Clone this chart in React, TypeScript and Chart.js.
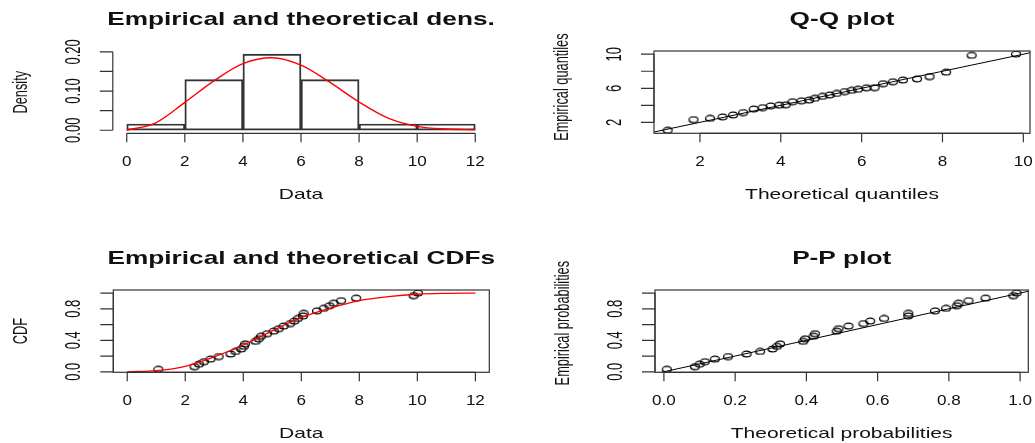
import React, { useEffect, useRef } from 'react';
import { Chart, registerables } from 'chart.js';

Chart.register(...registerables);

const W = 1035;
const H = 443;

// ---------- data ----------
const histBreaks = [0, 2, 4, 6, 8, 10, 12];
const histDensity = [0.016, 0.129, 0.194, 0.129, 0.016, 0.016];

const curveX = [0, 1, 2, 3, 4, 5, 6, 7, 8, 9, 10, 11, 12];
const densityCurve = [0.0, 0.019, 0.071, 0.126, 0.17, 0.185, 0.166, 0.122, 0.072, 0.031, 0.01, 0.003, 0.001];
const cdfCurve = [0.0, 0.015, 0.07, 0.19, 0.34, 0.52, 0.69, 0.81, 0.905, 0.955, 0.985, 0.996, 1.0];

const observed = [
  1.07, 2.32, 2.47, 2.64, 2.87, 3.15, 3.56, 3.73, 3.93, 4.02, 4.06, 4.42, 4.53, 4.61, 4.82, 5.05,
  5.22, 5.39, 5.62, 5.76, 5.88, 6.06, 6.08, 6.54, 6.77, 6.97, 7.11, 7.37, 7.89, 9.87, 10.02,
];
const empiricalProb = [
  0.032, 0.065, 0.097, 0.129, 0.161, 0.194, 0.226, 0.258, 0.29, 0.323, 0.355, 0.387, 0.419, 0.452, 0.484, 0.516,
  0.548, 0.581, 0.613, 0.645, 0.677, 0.71, 0.742, 0.774, 0.806, 0.839, 0.871, 0.903, 0.935, 0.968, 1.0,
];
const theoQuantiles = [
  1.2, 1.84, 2.25, 2.56, 2.82, 3.07, 3.33, 3.55, 3.75, 3.96, 4.12, 4.29, 4.51, 4.7, 4.84, 5.03,
  5.21, 5.38, 5.58, 5.75, 5.91, 6.12, 6.32, 6.53, 6.77, 7.02, 7.37, 7.68, 8.09, 8.72, 9.82,
];
const theoProb = [
  0.008, 0.087, 0.1, 0.115, 0.143, 0.18, 0.232, 0.27, 0.305, 0.317, 0.326, 0.391, 0.396, 0.42, 0.424, 0.485,
  0.49, 0.518, 0.56, 0.579, 0.618, 0.686, 0.686, 0.761, 0.792, 0.822, 0.827, 0.855, 0.903, 0.981, 0.99,
];
const qqIdentity = [0, 11];
const ppIdentity = [-0.1, 1.1];

// ---------- tick labels ----------
const dataTicks = [0, 2, 4, 6, 8, 10, 12];
const dataTickLabels = ['0', '2', '4', '6', '8', '10', '12'];
const densTicks = [0, 0.05, 0.1, 0.15, 0.2];
const densTickLabels = ['0.00', '', '0.10', '', '0.20'];
const qqTicks = [2, 4, 6, 8, 10];
const qqXLabels = ['2', '4', '6', '8', '10'];
const qqYLabels = ['2', '', '6', '', '10'];
const probTicks = [0, 0.2, 0.4, 0.6, 0.8, 1.0];
const probXLabels = ['0.0', '0.2', '0.4', '0.6', '0.8', '1.0'];
const probYLabels = ['0.0', '', '0.4', '', '0.8', ''];

const FONT = '"Liberation Sans", Arial, Helvetica, sans-serif';
const INK = '#111';
const AXIS = '#333';

type Spec = {
  title: string;
  xTitle: string;
  yTitle: string;
  xTicks: number[];
  xLabels: string[];
  yTicks: number[];
  yLabels: string[];
  box: boolean;
  yTitleShift: number;
};

function hText(ctx: CanvasRenderingContext2D, t: string, x: number, y: number, font: string, sx: number) {
  ctx.save();
  ctx.translate(x, y);
  ctx.scale(sx, 1);
  ctx.font = font;
  ctx.textAlign = 'center';
  ctx.textBaseline = 'alphabetic';
  ctx.fillText(t, 0, 0);
  ctx.restore();
}

function vText(ctx: CanvasRenderingContext2D, t: string, x: number, y: number, font: string, sy: number) {
  ctx.save();
  ctx.translate(x, y);
  ctx.rotate(-Math.PI / 2);
  ctx.scale(1, sy);
  ctx.font = font;
  ctx.textAlign = 'center';
  ctx.textBaseline = 'alphabetic';
  ctx.fillText(t, 0, 0);
  ctx.restore();
}

function makeAxesPlugin(id: string, spec: Spec) {
  return {
    id,
    afterDraw(chart: any) {
      const { ctx, chartArea: a } = chart;
      const xs = chart.scales.x;
      const ys = chart.scales.y;
      ctx.save();
      ctx.strokeStyle = AXIS;
      ctx.lineWidth = 1.2;
      ctx.fillStyle = INK;
      if (spec.box) ctx.strokeRect(a.left, a.top, a.right - a.left, a.bottom - a.top);
      const xp = spec.xTicks.map((v) => xs.getPixelForValue(v));
      const yp = spec.yTicks.map((v) => ys.getPixelForValue(v));
      ctx.beginPath();
      ctx.moveTo(xp[0], a.bottom);
      ctx.lineTo(xp[xp.length - 1], a.bottom);
      xp.forEach((p) => {
        ctx.moveTo(p, a.bottom);
        ctx.lineTo(p, a.bottom + 9);
      });
      ctx.moveTo(a.left, yp[0]);
      ctx.lineTo(a.left, yp[yp.length - 1]);
      yp.forEach((p) => {
        ctx.moveTo(a.left, p);
        ctx.lineTo(a.left - 13, p);
      });
      ctx.stroke();

      const cx = (a.left + a.right) / 2;
      const cy = (a.top + a.bottom) / 2;
      spec.xLabels.forEach((l, i) => {
        if (l) hText(ctx, l, xp[i], a.bottom + 32.5, `14px ${FONT}`, 1.22);
      });
      spec.yLabels.forEach((l, i) => {
        if (l) vText(ctx, l, a.left - 33, yp[i], `13px ${FONT}`, 1.75);
      });
      hText(ctx, spec.xTitle, cx, a.bottom + 66, `15px ${FONT}`, 1.4);
      vText(ctx, spec.yTitle, a.left - 86, cy + spec.yTitleShift, `12.8px ${FONT}`, 1.6);
      hText(ctx, spec.title, cx, a.top - 26, `bold 19px ${FONT}`, 1.38);
      ctx.restore();
    },
  };
}

function baseOptions(area: number[], xr: number[], yr: number[], xTickVals?: number[]) {
  const [l, t, r, b] = area;
  return {
    responsive: false,
    animation: false as const,
    devicePixelRatio: 1,
    events: [] as any[],
    layout: { padding: { left: l, top: t, right: W - r, bottom: H - b } },
    plugins: { legend: { display: false }, tooltip: { enabled: false }, title: { display: false } },
    scales: {
      x: {
        type: 'linear' as const,
        display: false,
        min: xr[0],
        max: xr[1],
        offset: false,
        afterBuildTicks: xTickVals
          ? (s: any) => {
              s.ticks = xTickVals.map((v) => ({ value: v }));
            }
          : undefined,
      },
      y: { type: 'linear' as const, display: false, min: yr[0], max: yr[1] },
    },
  };
}

function buildConfigs(ellipse: HTMLCanvasElement): any[] {
  const pointStyleOpts = {
    pointStyle: ellipse,
    pointRadius: 4,
    showLine: false,
    borderColor: INK,
    backgroundColor: 'rgba(0,0,0,0)',
  };

  const dens = {
    type: 'bar',
    data: {
      datasets: [
        {
          type: 'line',
          data: curveX.map((x, i) => ({ x, y: densityCurve[i] })),
          borderColor: '#ff0000',
          borderWidth: 1.4,
          pointRadius: 0,
          cubicInterpolationMode: 'monotone',
          order: 0,
        },
        {
          type: 'bar',
          data: histDensity.map((d, i) => ({ x: (histBreaks[i] + histBreaks[i + 1]) / 2, y: d })),
          backgroundColor: 'rgba(255,255,255,0)',
          borderColor: AXIS,
          borderWidth: 1.3,
          borderSkipped: false,
          barPercentage: 1,
          categoryPercentage: 1,
          order: 1,
        },
      ],
    },
    options: baseOptions([112.8, 51.2, 489.2, 133.3], [-0.48, 12.48], [-0.0078, 0.2016], histBreaks),
    plugins: [
      makeAxesPlugin('rAxesDens', {
        title: 'Empirical and theoretical dens.',
        xTitle: 'Data',
        yTitle: 'Density',
        xTicks: dataTicks,
        xLabels: dataTickLabels,
        yTicks: densTicks,
        yLabels: densTickLabels,
        box: false,
        yTitleShift: 0,
      }),
    ],
  };

  const qq = {
    type: 'scatter',
    data: {
      datasets: [
        { data: theoQuantiles.map((x, i) => ({ x, y: observed[i] })), ...pointStyleOpts, order: 1 },
        {
          type: 'line',
          data: qqIdentity.map((v) => ({ x: v, y: v })),
          borderColor: '#000',
          borderWidth: 1,
          pointRadius: 0,
          showLine: true,
          order: 0,
        },
      ],
    },
    options: baseOptions([654, 51, 1030.7, 133.3], [0.864, 10.165], [0.712, 10.378]),
    plugins: [
      makeAxesPlugin('rAxesQQ', {
        title: 'Q-Q plot',
        xTitle: 'Theoretical quantiles',
        yTitle: 'Empirical quantiles',
        xTicks: qqTicks,
        xLabels: qqXLabels,
        yTicks: qqTicks,
        yLabels: qqYLabels,
        box: true,
        yTitleShift: -5,
      }),
    ],
  };

  const cdf = {
    type: 'scatter',
    data: {
      datasets: [
        {
          type: 'line',
          data: curveX.map((x, i) => ({ x, y: cdfCurve[i] })),
          borderColor: '#ff0000',
          borderWidth: 1.3,
          pointRadius: 0,
          showLine: true,
          cubicInterpolationMode: 'monotone',
          order: 0,
        },
        { data: observed.map((x, i) => ({ x, y: empiricalProb[i] })), ...pointStyleOpts, order: 1 },
      ],
    },
    options: baseOptions([113.3, 290, 489.3, 372.3], [-0.48, 12.48], [-0.0065, 1.0387]),
    plugins: [
      makeAxesPlugin('rAxesCDF', {
        title: 'Empirical and theoretical CDFs',
        xTitle: 'Data',
        yTitle: 'CDF',
        xTicks: dataTicks,
        xLabels: dataTickLabels,
        yTicks: probTicks,
        yLabels: probYLabels,
        box: true,
        yTitleShift: 0,
      }),
    ],
  };

  const pp = {
    type: 'scatter',
    data: {
      datasets: [
        { data: theoProb.map((x, i) => ({ x, y: empiricalProb[i] })), ...pointStyleOpts, order: 1 },
        {
          type: 'line',
          data: ppIdentity.map((v) => ({ x: v, y: v })),
          borderColor: '#000',
          borderWidth: 1,
          pointRadius: 0,
          showLine: true,
          order: 0,
        },
      ],
    },
    options: baseOptions([655, 290, 1028.3, 372.3], [-0.025, 1.023], [-0.0065, 1.0387]),
    plugins: [
      makeAxesPlugin('rAxesPP', {
        title: 'P-P plot',
        xTitle: 'Theoretical probabilities',
        yTitle: 'Empirical probabilities',
        xTicks: probTicks,
        xLabels: probXLabels,
        yTicks: probTicks,
        yLabels: probYLabels,
        box: true,
        yTitleShift: -8,
      }),
    ],
  };

  return [dens, qq, cdf, pp];
}

function makeEllipse(): HTMLCanvasElement {
  const c = document.createElement('canvas');
  c.width = 12;
  c.height = 8;
  const g = c.getContext('2d')!;
  g.strokeStyle = '#000';
  g.lineWidth = 1.2;
  g.beginPath();
  g.ellipse(6, 4, 4.5, 2.9, 0, 0, Math.PI * 2);
  g.stroke();
  return c;
}

export default function App() {
  const r0 = useRef<HTMLCanvasElement>(null);
  const r1 = useRef<HTMLCanvasElement>(null);
  const r2 = useRef<HTMLCanvasElement>(null);
  const r3 = useRef<HTMLCanvasElement>(null);
  const refs = [r0, r1, r2, r3];

  useEffect(() => {
    const configs = buildConfigs(makeEllipse());
    const charts = configs.map((cfg, i) => new Chart(refs[i].current as HTMLCanvasElement, cfg));
    return () => charts.forEach((c) => c.destroy());
  }, []);

  return (
    <div style={{ position: 'fixed', left: 0, top: 0, width: W, height: H, background: '#fff', overflow: 'hidden' }}>
      {refs.map((r, i) => (
        <canvas
          key={i}
          ref={r}
          width={W}
          height={H}
          style={{ position: 'absolute', left: 0, top: 0, width: W, height: H }}
        />
      ))}
    </div>
  );
}
